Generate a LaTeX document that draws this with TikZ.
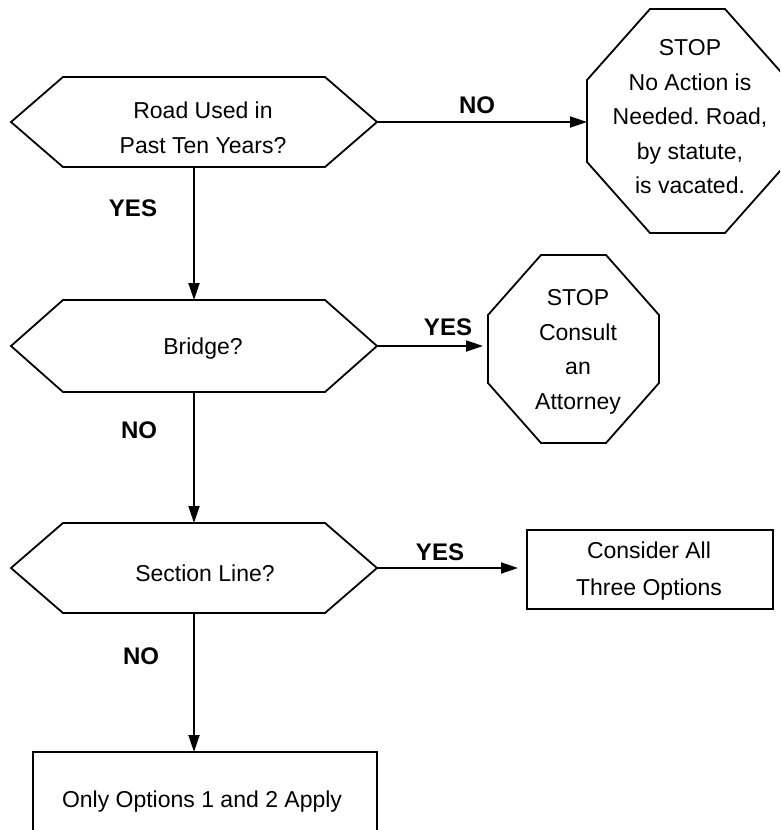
\documentclass[tikz,border=0pt]{standalone}
\usepackage{fontspec}
\setmainfont{Liberation Sans}
\usetikzlibrary{arrows.meta}
\frenchspacing
\begin{document}
\begin{tikzpicture}[x=1pt,y=-1pt,
  shapebox/.style={draw=none, inner sep=0pt, outer sep=0pt},
  txt/.style={inner sep=0pt, align=center, font=\fontsize{23}{34.5}\selectfont},
  rectbox/.style={draw, line width=1.8pt, inner sep=0pt, outer sep=0pt},
  outline/.style={line width=1.8pt, line join=miter},
  conn/.style={line width=1.8pt, -{Triangle[length=17pt,width=11pt]}},
  lab/.style={font=\bfseries\fontsize{24}{28}\selectfont}]
\useasboundingbox (0,0) rectangle (780,830);
\clip (0,0) rectangle (780,830);

% hexagons
\node[shapebox, minimum width=366pt, minimum height=90pt] (h1) at (194,122) {};
\node[shapebox, minimum width=366pt, minimum height=92pt] (h2) at (194,346) {};
\node[shapebox, minimum width=366pt, minimum height=90pt] (h3) at (194,568) {};
\foreach \h in {h1,h2,h3}{
  \draw[outline] (\h.west) -- ([xshift=52pt]\h.north west) -- ([xshift=-52pt]\h.north east)
    -- (\h.east) -- ([xshift=-52pt]\h.south east) -- ([xshift=52pt]\h.south west) -- cycle;
}
\node[txt] (h1t) at (203,128) {Road Used in\\Past Ten Years?};
\node[txt] (h2t) at (203,349) {Bridge?};
\node[txt] (h3t) at (205,573) {Section Line?};

% octagons
\node[shapebox, minimum width=201pt, minimum height=224pt] (o1) at (687.5,121) {};
\node[txt] (o1t) at (690,117) {STOP\\No Action is\\Needed. Road,\\by statute,\\is vacated.};
\draw[outline] ([xshift=-37.5pt]o1.north) -- ([xshift=37.5pt]o1.north)
  -- ([yshift=41pt]o1.east) -- ([yshift=-41pt]o1.east)
  -- ([xshift=37.5pt]o1.south) -- ([xshift=-37.5pt]o1.south)
  -- ([yshift=-41pt]o1.west) -- ([yshift=41pt]o1.west) -- cycle;

\node[shapebox, minimum width=171pt, minimum height=188pt] (o2) at (573.5,349) {};
\node[txt] (o2t) at (578,352) {STOP\\Consult\\an\\Attorney};
\draw[outline] ([xshift=-32.5pt]o2.north) -- ([xshift=32.5pt]o2.north)
  -- ([yshift=34pt]o2.east) -- ([yshift=-34pt]o2.east)
  -- ([xshift=32.5pt]o2.south) -- ([xshift=-32.5pt]o2.south)
  -- ([yshift=-34pt]o2.west) -- ([yshift=34pt]o2.west) -- cycle;

% rectangles
\node[rectbox, minimum width=246pt, minimum height=79pt] (b1) at (650,569.5) {};
\node[txt, font=\fontsize{23}{37}\selectfont] (b1t) at (649,571) {Consider All\\Three Options};
\node[rectbox, minimum width=344pt, minimum height=98pt] (b2) at (205,801) {};
\node[txt] (b2t) at (202,802) {Only Options 1 and 2 Apply};

% connectors
\draw[conn] (h1.east) -- (h1.east -| o1.west);
\draw[conn] (h1.south) -- (h2.north);
\draw[conn, shorten >=5pt] (h2.east) -- (h2.east -| o2.west);
\draw[conn] (h2.south) -- (h3.north);
\draw[conn, shorten >=9pt] (h3.east) -- (h3.east -| b1.west);
\draw[conn] (h3.south) -- (h3.south |- b2.north);

% labels
\node[lab] (l1) at (477,105) {NO};
\node[lab] (l2) at (133,208) {YES};
\node[lab] (l3) at (448,327) {YES};
\node[lab] (l4) at (139,430) {NO};
\node[lab] (l5) at (440,552) {YES};
\node[lab] (l6) at (141,656) {NO};
\end{tikzpicture}
\end{document}
